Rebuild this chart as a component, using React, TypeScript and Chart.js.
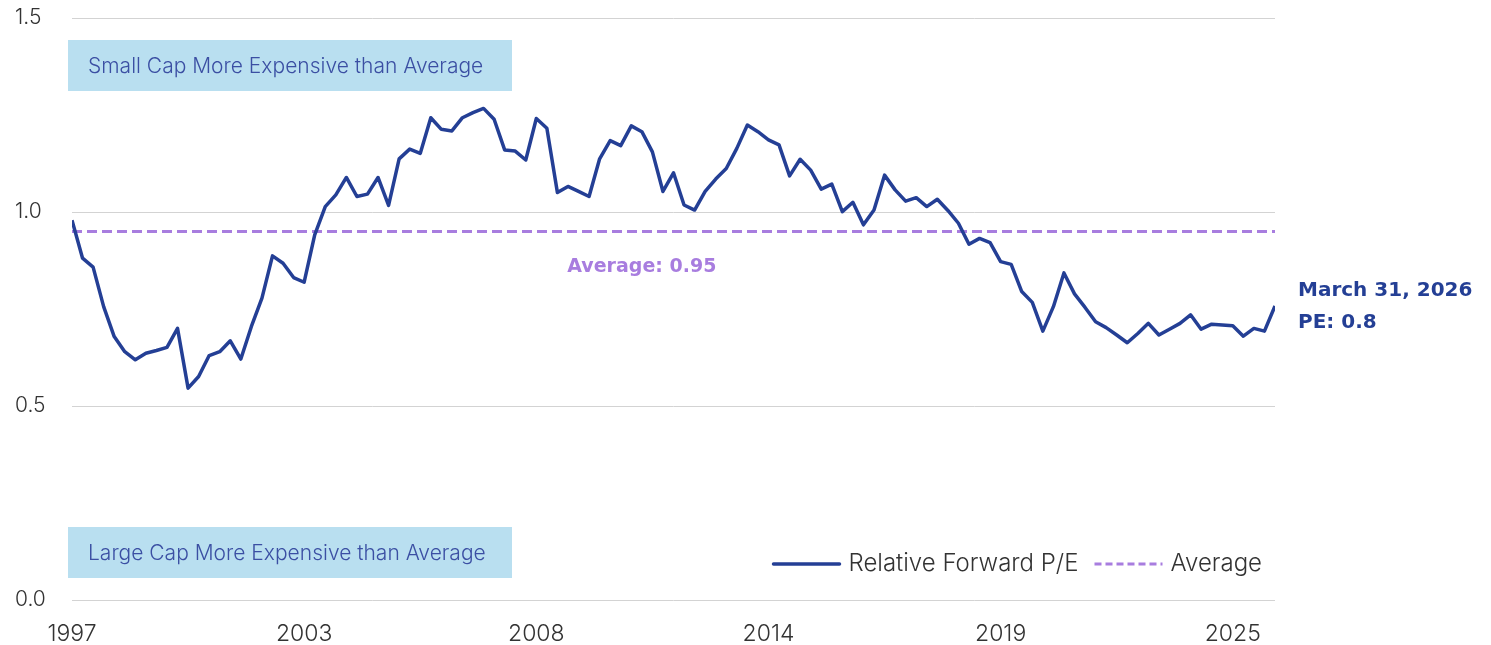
import React, { useEffect, useRef } from "react";
import { Chart, registerables } from "chart.js";

Chart.register(...registerables);

// Quarterly relative forward P/E (small cap / large cap), Q3 1997 – Q1 2026
const VALUES: number[] = [
  0.979, 0.881, 0.858, 0.756, 0.679, 0.640, 0.619, 0.636, 0.643, 0.651,
  0.700, 0.546, 0.576, 0.630, 0.640, 0.668, 0.621, 0.705, 0.778, 0.887,
  0.868, 0.831, 0.819, 0.941, 1.014, 1.044, 1.089, 1.040, 1.046, 1.089,
  1.017, 1.137, 1.162, 1.151, 1.243, 1.213, 1.209, 1.243, 1.256, 1.267,
  1.239, 1.160, 1.157, 1.134, 1.241, 1.216, 1.050, 1.066, 1.053, 1.040,
  1.137, 1.184, 1.171, 1.222, 1.207, 1.155, 1.053, 1.101, 1.018, 1.005,
  1.053, 1.085, 1.112, 1.164, 1.224, 1.207, 1.186, 1.173, 1.093, 1.136,
  1.108, 1.059, 1.072, 1.001, 1.025, 0.967, 1.005, 1.095, 1.057, 1.028,
  1.037, 1.014, 1.033, 1.004, 0.971, 0.917, 0.932, 0.921, 0.872, 0.865,
  0.795, 0.767, 0.693, 0.756, 0.843, 0.789, 0.754, 0.717, 0.702, 0.683,
  0.663, 0.687, 0.713, 0.683, 0.698, 0.713, 0.735, 0.698, 0.711, 0.709,
  0.707, 0.680, 0.700, 0.693, 0.758,
];

const AVERAGE = 0.95;
const TICK_INDICES: number[] = [0, 22, 44, 66, 88, 110];
const TICK_LABELS: string[] = ["1997", "2003", "2008", "2014", "2019", "2025"];
const Y_TICKS: number[] = [0, 0.5, 1.0, 1.5];

const SERIES_LABEL = "Relative Forward P/E";
const AVERAGE_LABEL = "Average";
const AVERAGE_TEXT = "Average: 0.95";
const AVERAGE_TEXT_INDEX = 54;
const END_TEXT: string[] = ["March 31, 2026", "PE: 0.8"];
const BOX_TEXT_TOP = "Small Cap More Expensive than Average";
const BOX_TEXT_BOTTOM = "Large Cap More Expensive than Average";

const BLUE = "#243f95";
const PURPLE = "#a87ddf";
const BOX_FILL = "#b9dff0";
const BOX_TEXT = "#3b4fa3";
const TEXT = "#333333";
const FONT_FAMILY = "Inter, 'DejaVu Sans', sans-serif";

const overlayPlugin = {
  id: "overlay",
  beforeDatasetsDraw(chart: any) {
    const { ctx, chartArea } = chart;
    const left = chartArea.left - 4;
    const w = 444;
    const h = 51;
    ctx.save();
    ctx.fillStyle = BOX_FILL;
    ctx.fillRect(left, chartArea.top + 22, w, h);
    ctx.fillRect(left, chartArea.bottom - 73, w, h);
    ctx.fillStyle = BOX_TEXT;
    ctx.font = `300 21px ${FONT_FAMILY}`;
    ctx.textBaseline = "middle";
    ctx.textAlign = "left";
    ctx.fillText(BOX_TEXT_TOP, left + 20, chartArea.top + 22 + h / 2 + 1);
    ctx.fillText(BOX_TEXT_BOTTOM, left + 20, chartArea.bottom - 73 + h / 2 + 1);
    ctx.restore();
  },
  afterDatasetsDraw(chart: any) {
    const { ctx, chartArea, scales } = chart;
    const x = scales.x;
    const y = scales.y;
    ctx.save();
    // average label
    ctx.fillStyle = PURPLE;
    ctx.font = `bold 19px 'DejaVu Sans', sans-serif`;
    ctx.textAlign = "center";
    ctx.textBaseline = "middle";
    ctx.fillText(AVERAGE_TEXT, x.getPixelForValue(AVERAGE_TEXT_INDEX), y.getPixelForValue(AVERAGE) + 36);
    // end label
    const lastI = VALUES.length - 1;
    const lx = x.getPixelForValue(lastI) + 23;
    const ly = y.getPixelForValue(VALUES[lastI]);
    ctx.fillStyle = BLUE;
    ctx.font = `bold 20px 'DejaVu Sans', sans-serif`;
    ctx.textAlign = "left";
    ctx.fillText(END_TEXT[0], lx, ly - 15);
    ctx.fillText(END_TEXT[1], lx, ly + 17);
    // legend
    ctx.font = `300 24px ${FONT_FAMILY}`;
    const sample = 68;
    const gap = 8;
    const between = 16;
    const w1 = ctx.measureText(SERIES_LABEL).width;
    const w2 = ctx.measureText(AVERAGE_LABEL).width;
    const total = sample + gap + w1 + between + sample + gap + w2;
    let cx = chartArea.right - 13 - total;
    const cy = chartArea.bottom - 36;
    ctx.lineCap = "round";
    ctx.strokeStyle = BLUE;
    ctx.lineWidth = 3.5;
    ctx.beginPath();
    ctx.moveTo(cx + 1, cy);
    ctx.lineTo(cx + sample - 1, cy);
    ctx.stroke();
    cx += sample + gap;
    ctx.fillStyle = TEXT;
    ctx.textBaseline = "middle";
    ctx.fillText(SERIES_LABEL, cx, cy);
    cx += w1 + between;
    ctx.strokeStyle = PURPLE;
    ctx.lineWidth = 3;
    ctx.lineCap = "butt";
    ctx.setLineDash([7, 4]);
    ctx.beginPath();
    ctx.moveTo(cx, cy);
    ctx.lineTo(cx + sample, cy);
    ctx.stroke();
    ctx.setLineDash([]);
    cx += sample + gap;
    ctx.fillText(AVERAGE_LABEL, cx, cy);
    ctx.restore();
  },
};

export default function App() {
  const ref = useRef<HTMLCanvasElement | null>(null);

  useEffect(() => {
    if (!ref.current) return;
    const lastI = VALUES.length - 1;
    const chart = new Chart(ref.current, {
      type: "line",
      data: {
        datasets: [
          {
            label: SERIES_LABEL,
            data: VALUES.map((v, i) => ({ x: i, y: v })),
            borderColor: BLUE,
            borderWidth: 3.5,
            pointRadius: 0,
            tension: 0,
            borderJoinStyle: "round",
            order: 1,
          },
          {
            label: AVERAGE_LABEL,
            data: [
              { x: 0, y: AVERAGE },
              { x: lastI, y: AVERAGE },
            ],
            borderColor: PURPLE,
            borderWidth: 3,
            borderDash: [10, 5],
            pointRadius: 0,
            order: 2,
          },
        ],
      },
      plugins: [overlayPlugin],
      options: {
        animation: false,
        responsive: false,
        maintainAspectRatio: false,
        layout: { padding: { left: 15, right: 216, top: 18, bottom: 0 } },
        plugins: {
          legend: { display: false },
          tooltip: { enabled: false },
        },
        scales: {
          x: {
            type: "linear",
            min: 0,
            max: lastI,
            grid: { display: false, drawTicks: false },
            border: { display: false },
            afterBuildTicks: (axis: any) => {
              axis.ticks = TICK_INDICES.map((v) => ({ value: v }));
            },
            afterFit: (axis: any) => {
              axis.height = 45;
            },
            ticks: {
              autoSkip: false,
              maxRotation: 0,
              padding: 20,
              color: TEXT,
              font: { family: FONT_FAMILY, size: 23, weight: 300 },
              callback: (value: any) => {
                const k = TICK_INDICES.indexOf(Number(value));
                return k >= 0 ? TICK_LABELS[k] : null;
              },
            },
          },
          y: {
            min: 0,
            max: 1.5,
            afterBuildTicks: (axis: any) => {
              axis.ticks = Y_TICKS.map((v) => ({ value: v }));
            },
            afterFit: (axis: any) => {
              axis.width = 57;
            },
            grid: { color: "#d3d3d3", lineWidth: 1, drawTicks: false },
            border: { display: false },
            ticks: {
              padding: 0,
              crossAlign: "far",
              color: TEXT,
              font: { family: FONT_FAMILY, size: 21, weight: 300 },
              callback: (value: any) => Number(value).toFixed(1),
            },
          },
        },
      },
    } as any);
    return () => chart.destroy();
  }, []);

  return (
    <div style={{ position: "fixed", left: 0, top: 0, width: 1491, height: 645, background: "#fff" }}>
      <canvas ref={ref} width={1491} height={645} style={{ width: 1491, height: 645, display: "block" }} />
    </div>
  );
}
